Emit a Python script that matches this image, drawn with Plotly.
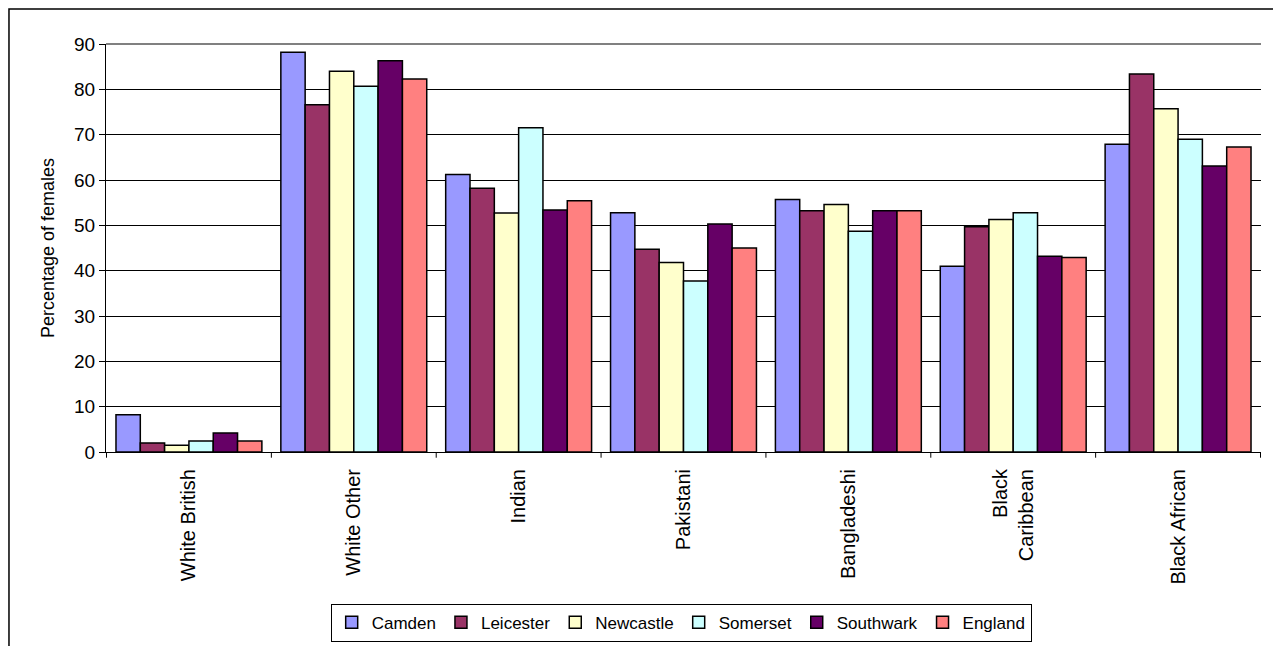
import plotly.graph_objects as go

categories = ["White British", "White Other", "Indian", "Pakistani", "Bangladeshi", "Black<br>Caribbean", "Black African"]
series_names = ["Camden", "Leicester", "Newcastle", "Somerset", "Southwark", "England"]
camden = [8.2, 88.2, 61.2, 52.8, 55.7, 41.0, 67.9]
leicester = [2.0, 76.6, 58.2, 44.7, 53.2, 49.7, 83.4]
newcastle = [1.5, 84.0, 52.7, 41.8, 54.6, 51.3, 75.7]
somerset = [2.4, 80.7, 71.5, 37.7, 48.7, 52.8, 69.0]
southwark = [4.2, 86.3, 53.4, 50.3, 53.2, 43.2, 63.1]
england = [2.4, 82.3, 55.4, 45.0, 53.2, 42.9, 67.3]
colors = ["#9999FF", "#993366", "#FFFFCC", "#CCFFFF", "#660066", "#FF8080"]
y_ticks = [0, 10, 20, 30, 40, 50, 60, 70, 80, 90]

series_values = [camden, leicester, newcastle, somerset, southwark, england]

fig = go.Figure()
for name, vals, col in zip(series_names, series_values, colors):
    fig.add_trace(go.Bar(
        name=name, x=categories, y=vals,
        marker=dict(color=col, line=dict(color="black", width=1.5)),
    ))

font = "Liberation Sans, Arial, sans-serif"
fig.update_layout(
    width=1273, height=646,
    margin=dict(l=106, r=12, t=44, b=194, autoexpand=False),
    paper_bgcolor="white", plot_bgcolor="white",
    barmode="group", bargap=0.115, bargroupgap=0,
    font=dict(family=font, color="black"),
    showlegend=True,
    legend=dict(orientation="h", x=0.498, xanchor="center", y=-0.372, yanchor="top",
                bordercolor="black", borderwidth=1, font=dict(size=17, family=font),
                itemwidth=30, tracegroupgap=0),
    xaxis=dict(tickangle=-90, tickfont=dict(size=20), showline=True, linecolor="black",
               linewidth=1, ticks="", showgrid=False, automargin=False,
               ticklabelstandoff=8),
    yaxis=dict(range=[0, 90], tickvals=y_ticks, tickfont=dict(size=19),
               showline=True, linecolor="black", linewidth=1, ticks="outside",
               ticklen=6, tickcolor="black", showgrid=True, gridcolor="black",
               gridwidth=1, zeroline=False, automargin=False,
               title=dict(text="Percentage of females", font=dict(size=18), standoff=14)),
)

# category boundary tick marks on x axis
shapes = []
for i in range(len(categories) + 1):
    shapes.append(dict(type="line", xref="x", yref="paper", x0=i - 0.5, x1=i - 0.5,
                       y0=0, y1=-0.014, line=dict(color="black", width=1)))
# top grey border line of plot area
shapes.append(dict(type="line", xref="paper", yref="paper", x0=0, x1=1, y0=1, y1=1,
                   line=dict(color="#808080", width=2)))
# outer chart frame
shapes.append(dict(type="rect", xref="paper", yref="paper", x0=-0.084, x1=1.05,
                   y0=-0.6, y1=1.0858, line=dict(color="black", width=1.5),
                   fillcolor="rgba(0,0,0,0)", layer="below"))
fig.update_layout(shapes=shapes)

fig.write_html("out.html")
